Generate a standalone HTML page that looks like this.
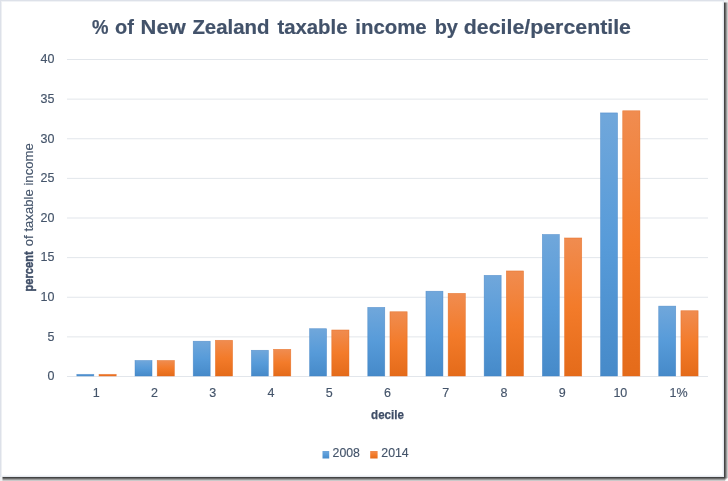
<!DOCTYPE html>
<html><head><meta charset="utf-8"><title>% of New Zealand taxable income by decile/percentile</title>
<style>
html,body{margin:0;padding:0;background:#fff;}
body{width:728px;height:481px;overflow:hidden;position:relative;}
svg{position:absolute;left:0;top:0;display:block;}
text{font-family:"Liberation Sans", Arial, sans-serif;}
</style></head><body>
<svg width="728" height="481" viewBox="0 0 728 481">
<defs>
<linearGradient id="gb" x1="0" y1="0" x2="0" y2="1">
<stop offset="0" stop-color="#70a7db"/><stop offset="0.5" stop-color="#579bd9"/><stop offset="1" stop-color="#468ac9"/></linearGradient>
<linearGradient id="go" x1="0" y1="0" x2="0" y2="1">
<stop offset="0" stop-color="#f08c50"/><stop offset="0.5" stop-color="#f37b2a"/><stop offset="1" stop-color="#e46b1a"/></linearGradient>
<linearGradient id="shr" x1="0" y1="0" x2="1" y2="0">
<stop offset="0" stop-color="#3e3e3e"/><stop offset="1" stop-color="#d0d0d0"/></linearGradient>
<linearGradient id="shb" x1="0" y1="0" x2="0" y2="1">
<stop offset="0" stop-color="#3e3e3e"/><stop offset="1" stop-color="#d0d0d0"/></linearGradient>
</defs>
<rect x="0" y="0" width="728" height="481" fill="#ffffff"/>

<rect x="722" y="1" width="1" height="476" fill="#f5f7fa"/>
<rect x="0" y="475" width="723" height="1" fill="#f5f7fa"/>
<rect x="723" y="1" width="1" height="476" fill="#e6e9ef"/>
<rect x="0" y="476" width="724" height="1" fill="#e6e9ef"/>
<rect x="0" y="0" width="724" height="1" fill="#dde1e9"/>
<rect x="2" y="1" width="721" height="1" fill="#f1f3f6"/>
<rect x="0" y="0" width="1" height="477" fill="#dde1e9"/>
<rect x="1" y="1" width="1" height="476" fill="#eef0f3"/>
<rect x="0" y="477" width="3" height="4" fill="#f0f1f3"/>
<rect x="724" y="0" width="4" height="2" fill="#f0f1f3"/>
<rect x="724" y="3" width="1" height="474" fill="#444444"/>
<rect x="3" y="477" width="721" height="1" fill="#444444"/>
<rect x="724" y="2" width="1" height="1" fill="#9a9a9a"/>
<rect x="2" y="477" width="1" height="1" fill="#9a9a9a"/>
<rect x="725" y="3" width="1" height="475" fill="#6c6c6c"/>
<rect x="3" y="478" width="722" height="1" fill="#6c6c6c"/>
<rect x="725" y="2" width="1" height="1" fill="#aeaeae"/>
<rect x="2" y="478" width="1" height="1" fill="#aeaeae"/>
<rect x="726" y="3" width="1" height="476" fill="#9c9c9c"/>
<rect x="3" y="479" width="723" height="1" fill="#9c9c9c"/>
<rect x="726" y="2" width="1" height="1" fill="#c6c6c6"/>
<rect x="2" y="479" width="1" height="1" fill="#c6c6c6"/>
<rect x="727" y="3" width="1" height="477" fill="#c9c9c9"/>
<rect x="3" y="480" width="724" height="1" fill="#c9c9c9"/>
<rect x="727" y="2" width="1" height="1" fill="#dcdcdc"/>
<rect x="2" y="480" width="1" height="1" fill="#dcdcdc"/>
<rect x="724" y="477" width="1" height="1" fill="#444444"/>
<rect x="724" y="478" width="1" height="1" fill="#6c6c6c"/>
<rect x="724" y="479" width="1" height="1" fill="#9c9c9c"/>
<rect x="724" y="480" width="1" height="1" fill="#c9c9c9"/>
<rect x="725" y="477" width="1" height="1" fill="#6c6c6c"/>
<rect x="725" y="478" width="1" height="1" fill="#949494"/>
<rect x="725" y="479" width="1" height="1" fill="#c4c4c4"/>
<rect x="725" y="480" width="1" height="1" fill="#f1f1f1"/>
<rect x="726" y="477" width="1" height="1" fill="#9c9c9c"/>
<rect x="726" y="478" width="1" height="1" fill="#c4c4c4"/>
<rect x="726" y="479" width="1" height="1" fill="#f4f4f4"/>
<rect x="726" y="480" width="1" height="1" fill="#ffffff"/>
<rect x="727" y="477" width="1" height="1" fill="#c9c9c9"/>
<rect x="727" y="478" width="1" height="1" fill="#f1f1f1"/>
<rect x="727" y="479" width="1" height="1" fill="#ffffff"/>
<rect x="727" y="480" width="1" height="1" fill="#ffffff"/>
<rect x="67.0" y="376.00" width="641.00" height="1" fill="#e2e6eb"/>
<rect x="67.0" y="336.38" width="641.00" height="1" fill="#e2e6eb"/>
<rect x="67.0" y="296.75" width="641.00" height="1" fill="#e2e6eb"/>
<rect x="67.0" y="257.12" width="641.00" height="1" fill="#e2e6eb"/>
<rect x="67.0" y="217.50" width="641.00" height="1" fill="#e2e6eb"/>
<rect x="67.0" y="177.88" width="641.00" height="1" fill="#e2e6eb"/>
<rect x="67.0" y="138.25" width="641.00" height="1" fill="#e2e6eb"/>
<rect x="67.0" y="98.62" width="641.00" height="1" fill="#e2e6eb"/>
<rect x="67.0" y="59.00" width="641.00" height="1" fill="#e2e6eb"/>
<rect x="76.82" y="374.28" width="17.00" height="1.72" fill="url(#gb)" stroke="#3f80c5" stroke-width="0.6" stroke-opacity="0.7"/>
<rect x="99.01" y="374.28" width="17.20" height="1.72" fill="url(#go)" stroke="#e4661a" stroke-width="0.6" stroke-opacity="0.7"/>
<rect x="135.01" y="360.49" width="17.00" height="15.51" fill="url(#gb)" stroke="#3f80c5" stroke-width="0.6" stroke-opacity="0.7"/>
<rect x="157.20" y="360.49" width="17.20" height="15.51" fill="url(#go)" stroke="#e4661a" stroke-width="0.6" stroke-opacity="0.7"/>
<rect x="193.20" y="341.23" width="17.00" height="34.77" fill="url(#gb)" stroke="#3f80c5" stroke-width="0.6" stroke-opacity="0.7"/>
<rect x="215.39" y="340.28" width="17.20" height="35.72" fill="url(#go)" stroke="#e4661a" stroke-width="0.6" stroke-opacity="0.7"/>
<rect x="251.39" y="350.27" width="17.00" height="25.73" fill="url(#gb)" stroke="#3f80c5" stroke-width="0.6" stroke-opacity="0.7"/>
<rect x="273.58" y="349.32" width="17.20" height="26.68" fill="url(#go)" stroke="#e4661a" stroke-width="0.6" stroke-opacity="0.7"/>
<rect x="309.58" y="328.71" width="17.00" height="47.29" fill="url(#gb)" stroke="#3f80c5" stroke-width="0.6" stroke-opacity="0.7"/>
<rect x="331.77" y="329.98" width="17.20" height="46.02" fill="url(#go)" stroke="#e4661a" stroke-width="0.6" stroke-opacity="0.7"/>
<rect x="367.77" y="307.39" width="17.00" height="68.61" fill="url(#gb)" stroke="#3f80c5" stroke-width="0.6" stroke-opacity="0.7"/>
<rect x="389.96" y="311.75" width="17.20" height="64.25" fill="url(#go)" stroke="#e4661a" stroke-width="0.6" stroke-opacity="0.7"/>
<rect x="425.96" y="291.23" width="17.00" height="84.77" fill="url(#gb)" stroke="#3f80c5" stroke-width="0.6" stroke-opacity="0.7"/>
<rect x="448.15" y="293.37" width="17.20" height="82.63" fill="url(#go)" stroke="#e4661a" stroke-width="0.6" stroke-opacity="0.7"/>
<rect x="484.15" y="275.38" width="17.00" height="100.62" fill="url(#gb)" stroke="#3f80c5" stroke-width="0.6" stroke-opacity="0.7"/>
<rect x="506.34" y="270.94" width="17.20" height="105.06" fill="url(#go)" stroke="#e4661a" stroke-width="0.6" stroke-opacity="0.7"/>
<rect x="542.34" y="234.48" width="17.00" height="141.52" fill="url(#gb)" stroke="#3f80c5" stroke-width="0.6" stroke-opacity="0.7"/>
<rect x="564.53" y="237.97" width="17.20" height="138.03" fill="url(#go)" stroke="#e4661a" stroke-width="0.6" stroke-opacity="0.7"/>
<rect x="600.53" y="112.91" width="17.00" height="263.09" fill="url(#gb)" stroke="#3f80c5" stroke-width="0.6" stroke-opacity="0.7"/>
<rect x="622.72" y="110.77" width="17.20" height="265.23" fill="url(#go)" stroke="#e4661a" stroke-width="0.6" stroke-opacity="0.7"/>
<rect x="658.72" y="306.13" width="17.00" height="69.87" fill="url(#gb)" stroke="#3f80c5" stroke-width="0.6" stroke-opacity="0.7"/>
<rect x="680.91" y="310.72" width="17.20" height="65.28" fill="url(#go)" stroke="#e4661a" stroke-width="0.6" stroke-opacity="0.7"/>
<text x="54.5" y="380.30" font-size="12.5" fill="#44546a" stroke="#44546a" stroke-width="0.15" text-anchor="end">0</text>
<text x="54.5" y="340.68" font-size="12.5" fill="#44546a" stroke="#44546a" stroke-width="0.15" text-anchor="end">5</text>
<text x="54.5" y="301.05" font-size="12.5" fill="#44546a" stroke="#44546a" stroke-width="0.15" text-anchor="end">10</text>
<text x="54.5" y="261.43" font-size="12.5" fill="#44546a" stroke="#44546a" stroke-width="0.15" text-anchor="end">15</text>
<text x="54.5" y="221.80" font-size="12.5" fill="#44546a" stroke="#44546a" stroke-width="0.15" text-anchor="end">20</text>
<text x="54.5" y="182.18" font-size="12.5" fill="#44546a" stroke="#44546a" stroke-width="0.15" text-anchor="end">25</text>
<text x="54.5" y="142.55" font-size="12.5" fill="#44546a" stroke="#44546a" stroke-width="0.15" text-anchor="end">30</text>
<text x="54.5" y="102.92" font-size="12.5" fill="#44546a" stroke="#44546a" stroke-width="0.15" text-anchor="end">35</text>
<text x="54.5" y="63.30" font-size="12.5" fill="#44546a" stroke="#44546a" stroke-width="0.15" text-anchor="end">40</text>
<text x="96.12" y="397.2" font-size="12.5" fill="#44546a" stroke="#44546a" stroke-width="0.15" text-anchor="middle">1</text>
<text x="154.38" y="397.2" font-size="12.5" fill="#44546a" stroke="#44546a" stroke-width="0.15" text-anchor="middle">2</text>
<text x="212.62" y="397.2" font-size="12.5" fill="#44546a" stroke="#44546a" stroke-width="0.15" text-anchor="middle">3</text>
<text x="270.88" y="397.2" font-size="12.5" fill="#44546a" stroke="#44546a" stroke-width="0.15" text-anchor="middle">4</text>
<text x="329.12" y="397.2" font-size="12.5" fill="#44546a" stroke="#44546a" stroke-width="0.15" text-anchor="middle">5</text>
<text x="387.38" y="397.2" font-size="12.5" fill="#44546a" stroke="#44546a" stroke-width="0.15" text-anchor="middle">6</text>
<text x="445.62" y="397.2" font-size="12.5" fill="#44546a" stroke="#44546a" stroke-width="0.15" text-anchor="middle">7</text>
<text x="503.88" y="397.2" font-size="12.5" fill="#44546a" stroke="#44546a" stroke-width="0.15" text-anchor="middle">8</text>
<text x="562.12" y="397.2" font-size="12.5" fill="#44546a" stroke="#44546a" stroke-width="0.15" text-anchor="middle">9</text>
<text x="620.38" y="397.2" font-size="12.5" fill="#44546a" stroke="#44546a" stroke-width="0.15" text-anchor="middle">10</text>
<text x="678.62" y="397.2" font-size="12.5" fill="#44546a" stroke="#44546a" stroke-width="0.15" text-anchor="middle">1%</text>
<g font-size="21" font-weight="bold" fill="#42526a" stroke="#42526a" stroke-width="0.2">
<text x="92.00" y="33.7" textLength="16.50" lengthAdjust="spacingAndGlyphs">%</text>
<text x="114.99" y="33.7" textLength="18.84" lengthAdjust="spacingAndGlyphs">of</text>
<text x="140.60" y="33.7" textLength="45.10" lengthAdjust="spacingAndGlyphs">New</text>
<text x="192.40" y="33.7" textLength="77.02" lengthAdjust="spacingAndGlyphs">Zealand</text>
<text x="277.41" y="33.7" textLength="70.05" lengthAdjust="spacingAndGlyphs">taxable</text>
<text x="355.27" y="33.7" textLength="71.45" lengthAdjust="spacingAndGlyphs">income</text>
<text x="434.66" y="33.7" textLength="23.33" lengthAdjust="spacingAndGlyphs">by</text>
<text x="463.85" y="33.7" textLength="167.13" lengthAdjust="spacingAndGlyphs">decile/percentile</text>
</g>
<text x="371.07" y="418.5" font-size="13.2" font-weight="bold" fill="#3e4d66" stroke="#3e4d66" stroke-width="0.25" textLength="32.87" lengthAdjust="spacingAndGlyphs">decile</text>
<text transform="translate(32.9,291.1) rotate(-90)" x="-0.37" y="0" font-size="12.5" font-weight="bold" fill="#3e4d66" stroke="#3e4d66" stroke-width="0.45" textLength="40.21" lengthAdjust="spacingAndGlyphs">percent</text>
<text transform="translate(32.9,246.1) rotate(-90)" x="-0.14" y="0" font-size="12.5" fill="#44546a" stroke="#44546a" stroke-width="0.15" textLength="103.07" lengthAdjust="spacingAndGlyphs">of taxable income</text>
<rect x="322.5" y="451" width="6.7" height="7.5" fill="url(#gb)"/>
<text x="332.59" y="457.2" font-size="12" fill="#44546a" stroke="#44546a" stroke-width="0.15" textLength="27.33" lengthAdjust="spacingAndGlyphs">2008</text>
<rect x="370.2" y="451" width="7.4" height="7.5" fill="url(#go)"/>
<text x="381.29" y="457.2" font-size="12" fill="#44546a" stroke="#44546a" stroke-width="0.15" textLength="27.43" lengthAdjust="spacingAndGlyphs">2014</text>
</svg>
</body></html>
